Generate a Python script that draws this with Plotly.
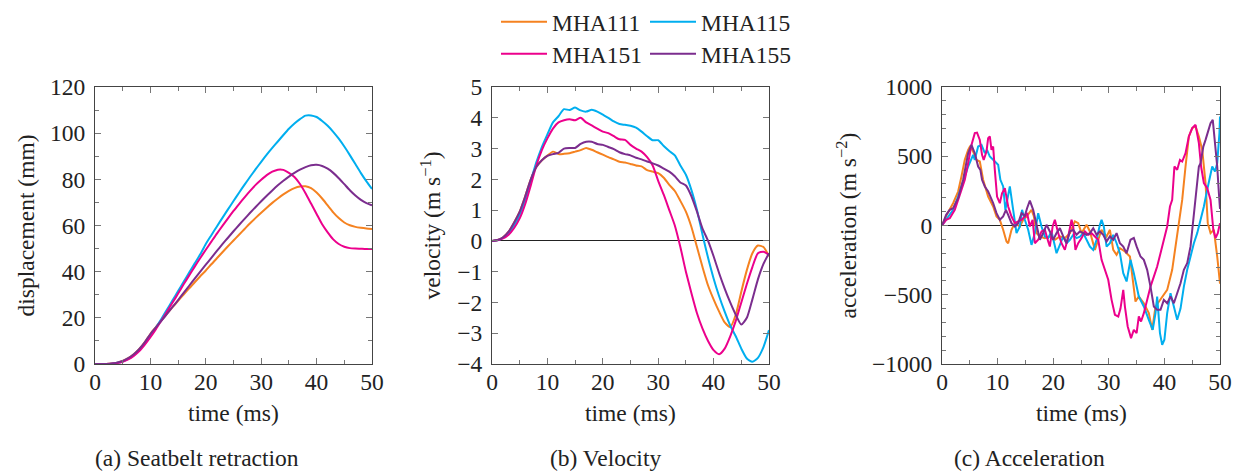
import plotly.graph_objects as go

# ---------------- data ----------------
series_names = ["MHA111", "MHA115", "MHA151", "MHA155"]
series_colors = ["#F58220", "#00AEEF", "#EC008C", "#7B2D8E"]

time_ms = list(range(0, 51))

disp_111 = [0, 0, 0.05, 0.2, 0.6, 1.3, 2.5, 4.2, 6.5, 9.5, 13, 16, 19, 21.8, 24.6, 27.4, 30.1, 32.8, 35.4, 38,
            40.5, 43.2, 45.8, 48.4, 51, 53.5, 56, 58.5, 61, 63.3, 65.5, 67.7, 69.8, 71.7, 73.5, 75, 76.2, 76.9, 77,
            76.2, 74.3, 71.7, 68.7, 65.7, 63.2, 61.3, 60.1, 59.4, 59, 58.7, 58.5]
disp_115 = [0, 0, 0.03, 0.15, 0.5, 1.1, 2.2, 3.8, 6.1, 8.9, 12.2, 15.8, 19.6, 23.6, 27.6, 31.6, 35.6, 39.6, 43.6,
            47.5, 52, 55.8, 59.6, 63.3, 67, 70.6, 74.2, 77.7, 81.1, 84.4, 87.6, 90.7, 93.6, 96.4, 99.2, 101.9,
            104.2, 106.1, 107.6, 107.7, 107.0, 105.3, 103.2, 100.6, 97.6, 94.2, 90.5, 86.6, 82.7, 79.1, 75.8]
disp_151 = [0, 0, 0.03, 0.12, 0.4, 1, 2, 3.5, 5.6, 8.4, 11.6, 15.1, 18.9, 22.7, 26.6, 30.5, 34.5, 38.4, 42.2,
            45.9, 49.5, 53, 56.5, 59.8, 63.1, 66.3, 69.3, 72.2, 75, 77.6, 79.8, 81.8, 83.3, 84.2, 84.1, 82.8, 81,
            78, 74, 69.5, 65, 60.5, 57, 54, 52, 50.8, 50.2, 50, 49.9, 49.8, 49.8]
disp_155 = [0, 0, 0.05, 0.2, 0.6, 1.3, 2.5, 4.2, 6.5, 9.5, 13, 15.9, 18.8, 21.7, 24.7, 27.7, 30.8, 33.9, 37, 40,
            43, 46, 49, 51.9, 54.7, 57.5, 60.2, 62.9, 65.5, 68, 70.5, 72.9, 75.2, 77.4, 79.4, 81.2, 82.8, 84.2,
            85.3, 86.1, 86.3, 85.8, 84.6, 82.8, 80.5, 77.9, 75.3, 73, 71.1, 69.7, 68.8]

vel_111 = [0, 0.03, 0.12, 0.3, 0.6, 0.95, 1.45, 2.0, 2.4, 2.62, 2.77, 2.9, 2.82, 2.83, 2.85, 2.9, 2.95, 3.02, 2.96,
           2.88, 2.8, 2.72, 2.65, 2.57, 2.55, 2.5, 2.45, 2.42, 2.3, 2.25, 2.2, 2.05, 1.82, 1.62, 1.3, 0.95, 0.45,
           -0.2, -0.85, -1.45, -1.9, -2.3, -2.65, -2.8, -2.4, -1.65, -0.95, -0.4, -0.15, -0.2, -0.5]
vel_115 = [0, 0.02, 0.1, 0.25, 0.5, 0.85, 1.35, 1.95, 2.55, 3.05, 3.46, 3.85, 4.05, 4.28, 4.25, 4.33, 4.24, 4.2,
           4.26, 4.2, 4.1, 4.0, 3.88, 3.8, 3.77, 3.74, 3.68, 3.55, 3.4, 3.27, 3.27, 3.08, 2.92, 2.78, 2.45, 2.15,
           1.65, 1.0, 0.2, -0.55, -1.22, -1.8, -2.3, -2.75, -3.1, -3.5, -3.82, -3.93, -3.8, -3.45, -2.9]
vel_151 = [0, 0.02, 0.08, 0.2, 0.42, 0.73, 1.2, 1.8, 2.45, 2.95, 3.33, 3.65, 3.85, 3.92, 3.95, 3.92, 4.0, 3.85,
           3.75, 3.65, 3.55, 3.5, 3.4, 3.3, 3.28, 3.12, 3.0, 2.9, 2.72, 2.45, 1.95, 1.5, 1.0, 0.5, -0.2, -1.0, -1.7,
           -2.35, -2.85, -3.25, -3.55, -3.68, -3.5, -3.1, -2.6, -2.0, -1.4, -0.85, -0.4, -0.35, -0.45]
vel_155 = [0, 0.03, 0.12, 0.3, 0.6, 0.95, 1.45, 2.0, 2.4, 2.62, 2.76, 2.82, 2.86, 3.0, 3.02, 3.02, 3.15, 3.22,
           3.22, 3.15, 3.12, 3.05, 2.98, 2.88, 2.82, 2.78, 2.7, 2.65, 2.58, 2.52, 2.45, 2.35, 2.25, 2.1, 1.9, 1.8,
           1.45, 0.95, 0.4, 0.0, -0.5, -1.05, -1.55, -2.0, -2.4, -2.72, -2.5, -1.9, -1.25, -0.75, -0.4]

acc_t_111 = [0, 1, 2, 2.9, 3.5, 4.1, 4.7, 5.1, 5.6, 6.2, 6.8, 7.4, 8.3, 9.2, 9.8, 10.4, 11, 11.6, 11.9, 12.5,
             13.1, 14, 14.6, 15.2, 16.1, 16.5, 17, 17.6, 18.5, 19.4, 20.3, 21.2, 22.1, 23, 23.9, 24.5, 25.1, 26,
             26.6, 27.5, 28.1, 28.7, 29.6, 30.2, 30.8, 31.4, 32, 32.9, 33.8, 34.2, 34.8, 35.4, 36.3, 37.2, 37.8,
             38.4, 39.3, 40.5, 41.4, 42, 42.6, 43.2, 43.8, 44.4, 45, 45.6, 46.2, 46.8, 47.4, 47.8, 48.3, 48.9,
             49.5, 50]
acc_111 = [0, 89, 161, 245, 354, 474, 546, 575, 534, 474, 462, 330, 209, 137, 65, 41, -31, -115, -128, -31,
           17, -7, 41, 65, 113, 70, -55, -80, -91, -80, -103, -79, -91, -55, 29, 17, -55, 5,
           -43, -176, -103, -31, -80, -31, -176, -212, -164, -188, -224, -344, -549, -513, -561, -633, -753,
           -585, -537, -465, -320, -152, -7, 185, 426, 643, 703, 715, 643, 547, 306, 17, -55, -31,
           -224, -420]

acc_t_115 = [0, 1, 2, 2.9, 3.8, 4.7, 5.6, 5.9, 6.5, 7.1, 7.7, 8.1, 8.6, 9.2, 9.8, 10.1, 10.5, 11, 11.4, 11.9,
             12.2, 12.8, 13.4, 14, 14.4, 14.9, 15.5, 16.1, 16.7, 17.3, 17.9, 18.5, 19.1, 19.7, 20.6, 21.2, 21.8,
             22.4, 23, 23.6, 24.2, 24.8, 25.4, 26, 26.6, 27.2, 27.8, 28.4, 28.7, 29.1, 29.6, 30.2, 30.8, 31.4,
             32, 32.6, 33.2, 33.9, 34.5, 35.4, 36.3, 37.2, 37.9, 38.4, 38.7, 39.2, 39.6, 40, 40.5, 41.1, 41.7,
             42.3, 42.9, 43.5, 44.1, 44.7, 45.3, 45.9, 46.5, 47.1, 47.7, 48.2, 48.6, 49.1, 49.5, 49.9, 50]
acc_115 = [0, 53, 113, 209, 318, 426, 510, 474, 570, 582, 522, 546, 498, 474, 450, 438, 330, 282, 113, 233,
           282, 113, -55, -7, 113, 41, -31, -140, -55, 89, -7, -79, -90, -43, -200, -140, -79,
           -128, -103, -67, -91, -80, -55, -103, -152, -176, -103, 5, 41, -7, -152, -128, -67, -128,
           -200, -344, -404, -248, -344, -513, -585, -681, -753, -633, -513, -777, -861, -825, -633, -489, -585,
           -681, -600, -441, -320, -224, -128, -55, 41, 137, 258, 354, 426, 390, 450, 667, 787]

acc_t_151 = [0, 0.75, 1.4, 2.3, 3.2, 4.1, 4.7, 5.3, 5.9, 6.3, 6.8, 7.2, 7.5, 8, 8.3, 8.6, 8.9, 9.2, 9.5, 9.9,
             10.4, 10.8, 11.3, 11.9, 12.5, 13.1, 13.7, 14.3, 14.9, 15.3, 15.8, 16.3, 16.7, 17.3, 17.9, 18.5,
             19.1, 19.4, 19.9, 20.3, 20.9, 21.5, 22.1, 22.7, 23.3, 23.6, 24, 24.5, 25.1, 25.7, 26.3, 26.9, 27.5,
             28.1, 28.7, 29.3, 29.9, 30.5, 31.1, 31.7, 32.1, 32.6, 32.9, 33.4, 34, 34.5, 35, 35.4, 35.8, 36.3,
             36.9, 37.5, 38.1, 38.7, 39.3, 39.9, 40.5, 41, 41.4, 41.8, 42.3, 42.8, 43.2, 43.8, 44.4, 45, 45.6,
             46.2, 46.6, 47.1, 47.7, 48.3, 48.8, 49.2, 49.6, 50]
acc_151 = [0, 41, 53, 113, 221, 330, 450, 582, 667, 671, 618, 510, 474, 534, 630, 643, 546, 570, 402, 209,
           161, 233, 270, 137, 65, 17, 29, 41, 65, 90, -7, 40, -128, -103, -43, -31,
           -115, -152, -7, 41, -55, -128, -176, -79, 41, -7, -176, -128, -91, -43, -67, -55, -79,
           -103, -248, -320, -392, -537, -645, -657, -600, -465, -585, -729, -813, -753, -777, -657, -693, -633,
           -537, -441, -369, -296, -200, -103, -7, 137, 185, 426, 402, 474, 462, 522, 643, 703, 727,
           595, 426, 306, 270, 185, -31, -91, -55, 17]

acc_t_155 = [0, 0.75, 1.4, 2, 2.9, 3.8, 4.7, 5.3, 5.9, 6.5, 6.9, 7.2, 7.7, 8.3, 8.7, 9.2, 9.8, 10.4, 11, 11.5,
             11.9, 12.5, 13.1, 13.7, 14.3, 14.9, 15.3, 15.8, 16.4, 17, 17.6, 18.2, 18.8, 19.4, 20, 20.6, 21.2,
             21.8, 22.4, 23, 23.6, 24.2, 24.8, 25.4, 26, 26.6, 27.2, 27.8, 28.4, 29, 29.6, 30.2, 30.8, 31.4, 32,
             32.6, 33.2, 33.9, 34.5, 35, 35.7, 36.3, 36.9, 37.5, 38.1, 38.7, 39.3, 39.9, 40.5, 41.1, 41.7, 42.3,
             42.9, 43.5, 44.1, 44.7, 45, 45.3, 45.6, 45.9, 46.2, 46.5, 47, 47.4, 47.8, 48.3, 48.7, 49.1, 49.5,
             49.8, 50]
acc_155 = [0, 77, 113, 125, 197, 330, 522, 582, 522, 426, 402, 330, 282, 245, 209, 161, 89, 41, 65, 113,
           77, 17, -7, 17, 89, 70, 125, 180, 113, -7, -103, -55, 5, -43, -103, -55, -19,
           -79, -128, -43, -31, -67, -43, -55, -67, -55, -19, -67, -43, -67, -115, -79, -103, -55, -128,
           -152, -200, -103, -90, -151, -224, -248, -320, -441, -585, -609, -609, -537, -561, -513, -561, -489,
           -417, -320, -272, -151, -31, 89, 185, 354, 426, 450, 570, 618, 667, 739, 763, 618, 426,
           233, 120]

disp_series = [disp_111, disp_115, disp_151, disp_155]
vel_series = [vel_111, vel_115, vel_151, vel_155]
acc_times = [acc_t_111, acc_t_115, acc_t_151, acc_t_155]
acc_series = [acc_111, acc_115, acc_151, acc_155]

# ---------------- figure ----------------
W, H = 1246, 471
FONT = "'Liberation Serif', 'Times New Roman', Times, serif"
FS = 23.5

fig = go.Figure()

for i, name in enumerate(series_names):
    leg = "legend" if i < 2 else "legend2"
    common = dict(mode="lines", name=name, legendgroup=name, legend=leg)
    fig.add_trace(go.Scatter(x=time_ms, y=disp_series[i], xaxis="x", yaxis="y",
                             line=dict(color=series_colors[i], width=2, shape="spline", smoothing=0.6),
                             showlegend=True, **common))
    fig.add_trace(go.Scatter(x=time_ms, y=vel_series[i], xaxis="x2", yaxis="y2",
                             line=dict(color=series_colors[i], width=2, shape="spline", smoothing=0.6),
                             showlegend=False, **common))
    fig.add_trace(go.Scatter(x=acc_times[i], y=acc_series[i], xaxis="x3", yaxis="y3",
                             line=dict(color=series_colors[i], width=2),
                             showlegend=False, **common))

def px_x(p):
    return p / W

def px_y(p):
    return 1 - p / H

top, bottom = 87, 364
ydom = [px_y(bottom), px_y(top)]
xdoms = [[px_x(95), px_x(372)], [px_x(492), px_x(769)], [px_x(942), px_x(1220)]]

axis_common = dict(showline=True, mirror="ticks", linecolor="#444", linewidth=1,
                   ticks="inside", ticklen=6, tickcolor="#777", tickwidth=1,
                   showgrid=False, zeroline=False, automargin=False,
                   tickfont=dict(family=FONT, size=FS, color="#222"))

for k in range(3):
    sfx = "" if k == 0 else str(k + 1)
    fig.layout["xaxis" + sfx] = dict(domain=xdoms[k], anchor="y" + sfx, range=[0, 50],
                                     tick0=0, dtick=10, ticklabelstandoff=-3,
                                     minor=dict(ticks="inside", ticklen=4, dtick=5, tickcolor="#777"),
                                     **axis_common)

fig.layout["yaxis"] = dict(domain=ydom, anchor="x", range=[0, 120], tick0=0, dtick=20, ticklabelstandoff=4,
                           minor=dict(ticks="inside", ticklen=4, dtick=10, tickcolor="#777"), **axis_common)
ax2 = dict(axis_common)
ax2.update(zeroline=True, zerolinecolor="#222", zerolinewidth=1, ticklabelstandoff=4)
fig.layout["yaxis2"] = dict(domain=ydom, anchor="x2", range=[-4, 5], tick0=0, dtick=1, **ax2)
fig.layout["yaxis3"] = dict(domain=ydom, anchor="x3", range=[-1000, 1000], tick0=0, dtick=500,
                            minor=dict(ticks="inside", ticklen=4, dtick=100, tickcolor="#777"), **ax2)

ann_font = dict(family=FONT, size=FS, color="#222")
annotations = []
ytitles = [("displacement (mm)", 25), ("velocity (m s<sup>−1</sup>)", 430),
           ("acceleration (m s<sup>−2</sup>)", 846)]
for text, xc in ytitles:
    annotations.append(dict(text=text, x=px_x(xc), y=px_y((top + bottom) / 2), xref="paper", yref="paper",
                            xanchor="center", yanchor="middle", textangle=-90, showarrow=False, font=ann_font))
for xc in [233.5, 630.5, 1081]:
    annotations.append(dict(text="time (ms)", x=px_x(xc), y=px_y(413), xref="paper", yref="paper",
                            xanchor="center", yanchor="middle", showarrow=False, font=ann_font))
captions = [("(a) Seatbelt retraction", 197), ("(b) Velocity", 605), ("(c) Acceleration", 1029)]
for text, xc in captions:
    annotations.append(dict(text=text, x=px_x(xc), y=px_y(458), xref="paper", yref="paper",
                            xanchor="center", yanchor="middle", showarrow=False, font=ann_font))

legend_common = dict(orientation="h", entrywidth=88, entrywidthmode="pixels", xanchor="left",
                     yanchor="middle", bgcolor="rgba(0,0,0,0)", borderwidth=0,
                     font=dict(family=FONT, size=FS, color="#222"), itemwidth=46, tracegroupgap=0)

fig.update_layout(
    width=W, height=H, autosize=False,
    margin=dict(l=0, r=0, t=0, b=0, autoexpand=False),
    paper_bgcolor="white", plot_bgcolor="white",
    annotations=annotations,
    legend=dict(x=px_x(496), y=px_y(22), **legend_common),
    legend2=dict(x=px_x(496), y=px_y(54), **legend_common),
)

fig.write_html("out.html")
